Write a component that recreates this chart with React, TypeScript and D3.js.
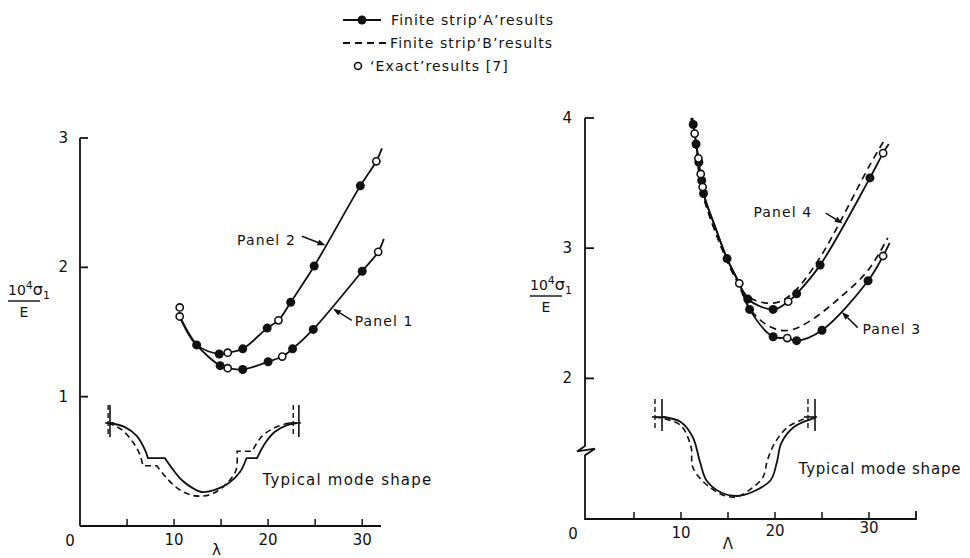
import * as d3 from "d3";

type P = [number, number];

// ---- legend ----
const legendLabels = ["Finite strip‘A’results", "Finite strip‘B’results", "‘Exact’results [7]"];

// ---- ticks ----
const leftYTicks = [1, 2, 3];
const rightYTicks = [2, 3, 4];
const xMinorTicks = [5, 10, 15, 20, 25, 30];
const xTickLabels = [10, 20, 30];

// ---- left chart (panels 1 and 2), lambda vs 10^4 sigma / E ----
const panel2CurveA: P[] = [[10.6, 1.62], [12.4, 1.4], [14.8, 1.33], [15.7, 1.34], [17.3, 1.37], [19.9, 1.53], [21.1, 1.59], [22.4, 1.73], [24.9, 2.01], [29.8, 2.63], [31.5, 2.82], [32.1, 2.92]];
const panel1CurveA: P[] = [[10.6, 1.62], [12.4, 1.4], [14.9, 1.24], [15.7, 1.22], [17.3, 1.21], [20.0, 1.27], [21.5, 1.31], [22.6, 1.37], [24.8, 1.52], [30.0, 1.97], [31.7, 2.12], [32.3, 2.22]];
const leftFilled: P[] = [[12.4, 1.4], [14.8, 1.33], [17.3, 1.37], [19.9, 1.53], [22.4, 1.73], [24.9, 2.01], [29.8, 2.63], [14.9, 1.24], [17.3, 1.21], [20.0, 1.27], [22.6, 1.37], [24.8, 1.52], [30.0, 1.97]];
const leftExact: P[] = [[10.6, 1.69], [10.6, 1.62], [15.7, 1.34], [21.1, 1.59], [31.5, 2.82], [15.7, 1.22], [21.5, 1.31], [31.7, 2.12]];

// ---- right chart (panels 3 and 4) ----
const panel4CurveA: P[] = [[11.2, 4.0], [11.8, 3.71], [12.4, 3.42], [13.6, 3.17], [14.9, 2.92], [16.2, 2.73], [17.1, 2.61], [19.8, 2.53], [21.4, 2.59], [22.3, 2.65], [24.8, 2.87], [30.1, 3.54], [31.5, 3.73], [32.1, 3.8]];
const panel3CurveA: P[] = [[11.2, 4.0], [11.8, 3.71], [12.4, 3.42], [13.6, 3.17], [14.9, 2.92], [16.2, 2.73], [17.3, 2.53], [19.8, 2.32], [21.3, 2.31], [22.3, 2.29], [25.0, 2.37], [29.9, 2.75], [31.5, 2.94], [32.2, 3.04]];
const panel4CurveB: P[] = [[11.1, 4.0], [11.7, 3.71], [12.3, 3.42], [14.8, 2.92], [16.1, 2.73], [17.1, 2.63], [18.9, 2.58], [20.5, 2.59], [22.1, 2.67], [24.8, 2.93], [30.1, 3.64], [31.8, 3.85]];
const panel3CurveB: P[] = [[11.1, 4.0], [11.7, 3.71], [12.3, 3.42], [14.8, 2.92], [16.1, 2.73], [17.1, 2.56], [18.4, 2.45], [20.0, 2.38], [21.6, 2.37], [23.7, 2.44], [26.9, 2.62], [29.9, 2.83], [32.0, 3.08]];
const rightFilled: P[] = [[11.3, 3.95], [11.6, 3.8], [11.9, 3.66], [12.2, 3.52], [12.4, 3.42], [14.9, 2.92], [17.1, 2.61], [19.8, 2.53], [22.3, 2.65], [24.8, 2.87], [30.1, 3.54], [17.3, 2.53], [19.8, 2.32], [22.3, 2.29], [25.0, 2.37], [29.9, 2.75]];
const rightExact: P[] = [[11.45, 3.88], [11.85, 3.69], [12.1, 3.57], [12.3, 3.47], [16.2, 2.73], [21.4, 2.59], [31.5, 3.73], [21.3, 2.31], [31.5, 2.94]];

// ---- typical mode shapes (u along span 0..1, w deflection 0..1), segments joined by straight steps ----
const leftModeSolid: P[][] = [
  [[0, 0], [0.08, 0.06], [0.144, 0.19], [0.187, 0.39], [0.203, 0.51]],
  [[0.294, 0.51], [0.33, 0.65], [0.385, 0.83], [0.44, 0.94], [0.49, 1.0], [0.56, 0.97], [0.63, 0.88], [0.695, 0.71], [0.73, 0.51]],
  [[0.786, 0.51], [0.83, 0.29], [0.88, 0.13], [0.947, 0.03], [1, 0]],
];
const leftModeDashed: P[][] = [
  [[-0.01, 0], [0.064, 0.1], [0.123, 0.28], [0.16, 0.46], [0.176, 0.62]],
  [[0.25, 0.62], [0.294, 0.77], [0.358, 0.94], [0.428, 1.04], [0.48, 1.06], [0.545, 1.03], [0.63, 0.86], [0.674, 0.68], [0.68, 0.41]],
  [[0.76, 0.41], [0.81, 0.2], [0.88, 0.07], [0.96, 0], [0.985, 0]],
];
const rightModeSolid: P[][] = [
  [[0, 0], [0.12, 0.06], [0.2, 0.25], [0.25, 0.58], [0.29, 0.8], [0.38, 0.95], [0.49, 1.0], [0.59, 0.95], [0.71, 0.8], [0.75, 0.58], [0.78, 0.33], [0.86, 0.13], [0.97, 0.03], [1.0, 0.01]],
];
const rightModeDashed: P[][] = [
  [[-0.046, 0], [0.118, 0.1], [0.19, 0.38], [0.2, 0.63], [0.27, 0.82], [0.4, 0.99], [0.49, 1.01], [0.575, 0.92], [0.66, 0.76], [0.69, 0.54], [0.74, 0.32], [0.82, 0.13], [0.92, 0.03], [0.954, 0.01]],
];
const leftModePosts = { solid: [0, 1.01], dashed: [-0.01, 0.98] };
const rightModePosts = { solid: [0, 1], dashed: [-0.046, 0.954] };

// scales
const leftX = d3.scaleLinear().domain([0, 32]).range([80, 381]);
const leftY = d3.scaleLinear().domain([0, 3]).range([526, 138]);
const rightX = d3.scaleLinear().domain([0, 35]).range([587, 916]);
const rightY = d3.scaleLinear().domain([0, 1.45, 4]).range([519, 450, 118]);
const leftModeU = d3.scaleLinear().domain([0, 1]).range([110, 297]);
const leftModeW = d3.scaleLinear().domain([0, 1]).range([423, 492]);
const rightModeU = d3.scaleLinear().domain([0, 1]).range([662, 815]);
const rightModeW = d3.scaleLinear().domain([0, 1]).range([417, 496]);

const FONT = "'DejaVu Sans', sans-serif";
const INK = "#111";

function curvePath(pts: P[], x: any, y: any) {
  return d3.line<P>().x((d) => x(d[0])).y((d) => y(d[1])).curve(d3.curveCatmullRom.alpha(0.5))(pts) || "";
}

function segmentsPath(segs: P[][], x: any, y: any) {
  return segs.map((s, i) => (i === 0 ? curvePath(s, x, y) : curvePath(s, x, y).replace(/^M/, "L"))).join("");
}

function Arrow({ from, to }: { from: [number, number]; to: [number, number] }) {
  const ang = Math.atan2(to[1] - from[1], to[0] - from[0]);
  const L = 8, W = 3;
  const bx = to[0] - L * Math.cos(ang), by = to[1] - L * Math.sin(ang);
  const pts = [
    [to[0], to[1]],
    [bx + W * Math.sin(ang), by - W * Math.cos(ang)],
    [bx - W * Math.sin(ang), by + W * Math.cos(ang)],
  ];
  return (
    <g>
      <line x1={from[0]} y1={from[1]} x2={bx} y2={by} stroke={INK} strokeWidth={1.5} />
      <polygon points={pts.map((p) => p.join(",")).join(" ")} fill={INK} />
    </g>
  );
}

function ModeShape({ solid, dashed, posts, u, w }: any) {
  const [w0, w1] = [w(0) - 18, w(0) + 14];
  return (
    <g fill="none" stroke={INK}>
      <path d={segmentsPath(solid, u, w)} strokeWidth={1.8} />
      <path d={segmentsPath(dashed, u, w)} strokeWidth={1.6} strokeDasharray="6,4" />
      {posts.solid.map((p: number, i: number) => (
        <line key={"s" + i} x1={u(p)} x2={u(p)} y1={w0} y2={w1} strokeWidth={1.6} />
      ))}
      {posts.dashed.map((p: number, i: number) => (
        <line key={"d" + i} x1={u(p)} x2={u(p)} y1={w0} y2={w1} strokeWidth={1.4} strokeDasharray="5,3" />
      ))}
      <line x1={u(posts.dashed[0]) - 3} x2={u(posts.solid[0]) + 4} y1={w(0)} y2={w(0)} strokeWidth={1.6} />
      <line x1={u(Math.min(posts.dashed[1], posts.solid[1])) - 4} x2={u(Math.max(posts.dashed[1], posts.solid[1])) + 2} y1={w(0)} y2={w(0)} strokeWidth={1.6} />
    </g>
  );
}

function YLabel({ x, y }: { x: number; y: number }) {
  return (
    <g fontFamily={FONT} fill={INK}>
      <text x={x} y={y} fontSize={14}>
        10<tspan dy={-6} fontSize={11}>4</tspan>
        <tspan dy={6} fontSize={16}>σ</tspan>
        <tspan dy={4} fontSize={11}>1</tspan>
      </text>
      <line x1={x} x2={x + 32} y1={y + 6} y2={y + 6} stroke={INK} strokeWidth={1.4} />
      <text x={x + 16} y={y + 22} fontSize={14} textAnchor="middle">E</text>
    </g>
  );
}

const labelStyle = { fontFamily: FONT, fontSize: 14, letterSpacing: 1.1 };

export default function App() {
  const leftAxisY = leftY(0);
  const rightAxisY = rightY(0);
  const ax = rightX(0) - 2;
  return (
    <svg width={970} height={558} style={{ position: "absolute", left: 0, top: 0, background: "#fff" }}>
      {/* legend */}
      <g style={labelStyle} fill={INK}>
        <line x1={343} x2={381} y1={20} y2={20} stroke={INK} strokeWidth={2} />
        <circle cx={362} cy={20} r={4.5} fill={INK} />
        <text x={391} y={25}>{legendLabels[0]}</text>
        <line x1={343} x2={387} y1={43} y2={43} stroke={INK} strokeWidth={2} strokeDasharray="7,5" />
        <text x={390} y={48}>{legendLabels[1]}</text>
        <circle cx={358} cy={66} r={3.5} fill="#fff" stroke={INK} strokeWidth={1.6} />
        <text x={370} y={71}>{legendLabels[2]}</text>
      </g>

      {/* ===== left chart ===== */}
      <g stroke={INK} fill="none" strokeWidth={1.8}>
        <line x1={leftX(0)} x2={leftX(0)} y1={leftY(3)} y2={leftAxisY} />
        <line x1={leftX(0)} x2={leftX(32)} y1={leftAxisY} y2={leftAxisY} />
        {leftYTicks.map((t) => (
          <line key={t} x1={leftX(0)} x2={leftX(0) + 8} y1={leftY(t)} y2={leftY(t)} />
        ))}
        {xMinorTicks.map((t) => (
          <line key={t} x1={leftX(t)} x2={leftX(t)} y1={leftAxisY} y2={leftAxisY - 7} strokeWidth={1.5} />
        ))}
      </g>
      <g fontFamily={FONT} fontSize={15} fill={INK}>
        {leftYTicks.map((t) => (
          <text key={t} x={leftX(0) - 12} y={leftY(t) + 5} textAnchor="end">{t}</text>
        ))}
        <text x={leftX(0) - 10} y={leftAxisY + 20} textAnchor="middle">0</text>
        {xTickLabels.map((t) => (
          <text key={t} x={leftX(t)} y={leftAxisY + 19} textAnchor="middle">{t}</text>
        ))}
        <text x={leftX(14.5)} y={leftAxisY + 29} textAnchor="middle">λ</text>
      </g>
      <YLabel x={8} y={295} />

      <g fill="none" stroke={INK} strokeWidth={1.8}>
        <path d={curvePath(panel2CurveA, leftX, leftY)} />
        <path d={curvePath(panel1CurveA, leftX, leftY)} />
      </g>
      {leftFilled.map((d, i) => (
        <circle key={i} cx={leftX(d[0])} cy={leftY(d[1])} r={4.5} fill={INK} />
      ))}
      {leftExact.map((d, i) => (
        <circle key={i} cx={leftX(d[0])} cy={leftY(d[1])} r={3.6} fill="#fff" stroke={INK} strokeWidth={1.6} />
      ))}
      <g style={labelStyle} fill={INK}>
        <text x={leftX(16.7)} y={leftY(2.17)}>Panel 2</text>
        <text x={leftX(29.2)} y={leftY(1.55)}>Panel 1</text>
      </g>
      <Arrow from={[leftX(23.6), leftY(2.24)]} to={[leftX(26.1), leftY(2.17)]} />
      <Arrow from={[leftX(28.9), leftY(1.59)]} to={[leftX(26.9), leftY(1.68)]} />

      <ModeShape solid={leftModeSolid} dashed={leftModeDashed} posts={leftModePosts} u={leftModeU} w={leftModeW} />
      <text x={leftX(19.4)} y={leftY(0.32)} style={{ ...labelStyle, fontSize: 15, letterSpacing: 1.2 }} fill={INK}>Typical mode shape</text>

      {/* ===== right chart ===== */}
      <g stroke={INK} fill="none" strokeWidth={1.8}>
        <path d={`M${ax},${rightY(4)}L${ax},${rightY(1.48)}L${ax - 8},${rightY(1.42)}L${ax + 10},${rightY(1.46)}L${ax},${rightY(1.34)}L${ax},${rightAxisY}L${rightX(35)},${rightAxisY}L${rightX(35)},${rightAxisY - 8}`} />
        {rightYTicks.map((t) => (
          <line key={t} x1={ax} x2={ax + 9} y1={rightY(t)} y2={rightY(t)} />
        ))}
        {xMinorTicks.map((t) => (
          <line key={t} x1={rightX(t)} x2={rightX(t)} y1={rightAxisY} y2={rightAxisY - 7} strokeWidth={1.5} />
        ))}
      </g>
      <g fontFamily={FONT} fontSize={15} fill={INK}>
        {rightYTicks.map((t) => (
          <text key={t} x={ax - 13} y={rightY(t) + 5} textAnchor="end">{t}</text>
        ))}
        <text x={ax - 12} y={rightAxisY + 20} textAnchor="middle">0</text>
        {xTickLabels.map((t) => (
          <text key={t} x={rightX(t)} y={rightAxisY + 19 - (t - 10) * 0.25} textAnchor="middle">{t}</text>
        ))}
        <text x={rightX(15)} y={rightAxisY + 30} textAnchor="middle">Λ</text>
      </g>
      <YLabel x={530} y={290} />

      <g fill="none" stroke={INK} strokeWidth={1.8}>
        <path d={curvePath(panel4CurveA, rightX, rightY)} />
        <path d={curvePath(panel3CurveA, rightX, rightY)} />
      </g>
      <g fill="none" stroke={INK} strokeWidth={1.7} strokeDasharray="7,5">
        <path d={curvePath(panel4CurveB, rightX, rightY)} />
        <path d={curvePath(panel3CurveB, rightX, rightY)} />
      </g>
      {rightFilled.map((d, i) => (
        <circle key={i} cx={rightX(d[0])} cy={rightY(d[1])} r={4.5} fill={INK} />
      ))}
      {rightExact.map((d, i) => (
        <circle key={i} cx={rightX(d[0])} cy={rightY(d[1])} r={3.6} fill="#fff" stroke={INK} strokeWidth={1.6} />
      ))}
      <g style={labelStyle} fill={INK}>
        <text x={rightX(17.7)} y={rightY(3.24)}>Panel 4</text>
        <text x={rightX(29.3)} y={rightY(2.34)}>Panel 3</text>
      </g>
      <Arrow from={[rightX(25.4), rightY(3.27)]} to={[rightX(27.2), rightY(3.19)]} />
      <Arrow from={[rightX(28.8), rightY(2.39)]} to={[rightX(27.1), rightY(2.51)]} />

      <ModeShape solid={rightModeSolid} dashed={rightModeDashed} posts={rightModePosts} u={rightModeU} w={rightModeW} />
      <text x={rightX(22.5)} y={rightY(0.95)} style={{ ...labelStyle, fontSize: 15, letterSpacing: 0.8 }} fill={INK}>Typical mode shape</text>
    </svg>
  );
}
